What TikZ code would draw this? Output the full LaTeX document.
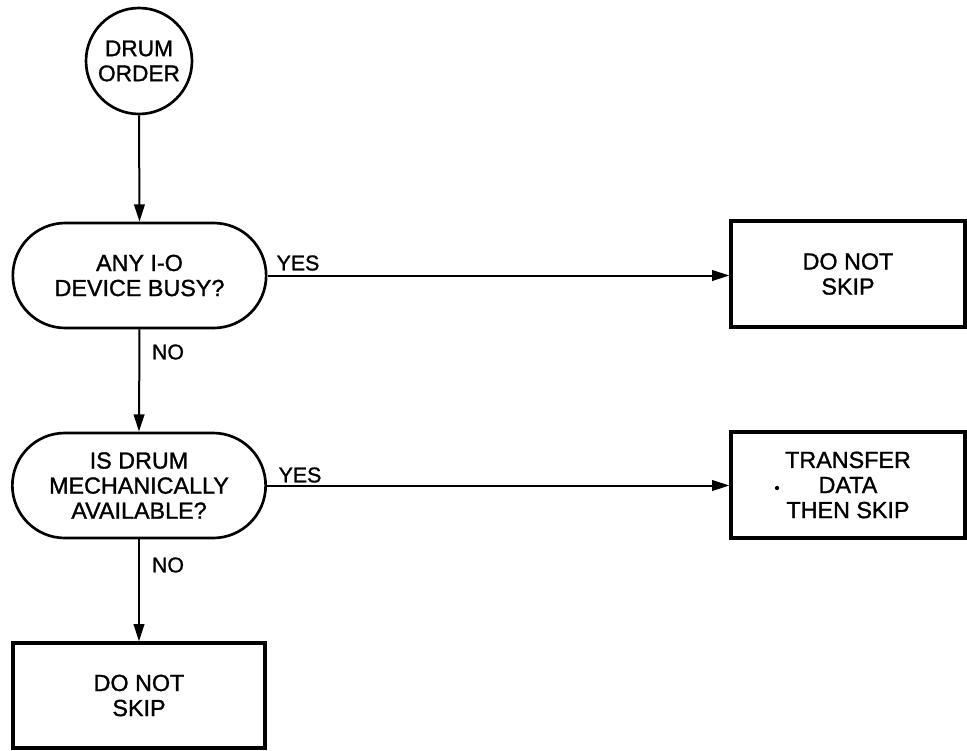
\documentclass[tikz,border=0pt]{standalone}
\usepackage{fontspec}
\setmainfont{Liberation Sans}[FakeBold=1.2]
\usetikzlibrary{arrows.meta,shapes.misc}
\begin{document}
\begin{tikzpicture}[x=0.75pt,y=-0.75pt,
  txt/.style={font=\fontsize{17.5}{18.8}\selectfont, align=center, inner sep=0pt},
  startc/.style={circle, draw, line width=2pt, minimum size=79.5pt, font=\fontsize{17}{18.8}\selectfont, align=center, inner sep=0pt},
  decision/.style={rounded rectangle, draw, line width=2pt, minimum width=190pt, minimum height=78.75pt, txt},
  actbox/.style={rectangle, draw, line width=2.5pt, minimum width=175.5pt, minimum height=79.5pt, txt},
  endbox/.style={rectangle, draw, line width=2.5pt, minimum width=189pt, minimum height=78.75pt, txt},
  lbl/.style={font=\fontsize{16}{18}\selectfont, inner sep=0pt},
  flow/.style={line width=1.5pt, -{Triangle[length=13pt,width=8pt]}}]
\useasboundingbox (0,0) rectangle (967,750);
\node[startc] (start) at (139,61) {DRUM\\ORDER};
\node[decision] (d1) at (139.5,275.5) {ANY I-O\\DEVICE BUSY?};
\node[actbox] (b1) at (848,274) {DO NOT\\SKIP};
\node[decision] (d2) at (139,485.5) {IS DRUM\\MECHANICALLY\\AVAILABLE?};
\node[actbox] (b2) at (848,485) {TRANSFER\\DATA\\THEN SKIP};
\node[endbox] (b3) at (139,695.5) {DO NOT\\SKIP};
\node[lbl] (yes1) at (298,263) {YES};
\node[lbl] (no1) at (168,352) {NO};
\node[lbl] (yes2) at (300,475) {YES};
\node[lbl] (no2) at (168,565) {NO};
\fill (777,488) circle (1.6pt);
\draw[flow] (start.south) -- (d1.north);
\draw[flow] (d1.east) -- (d1.east -| b1.west);
\draw[flow] (d1.south) -- (d2.north);
\draw[flow] (d2.east) -- (d2.east -| b2.west);
\draw[flow] (d2.south) -- (b3.north);
\end{tikzpicture}
\end{document}
